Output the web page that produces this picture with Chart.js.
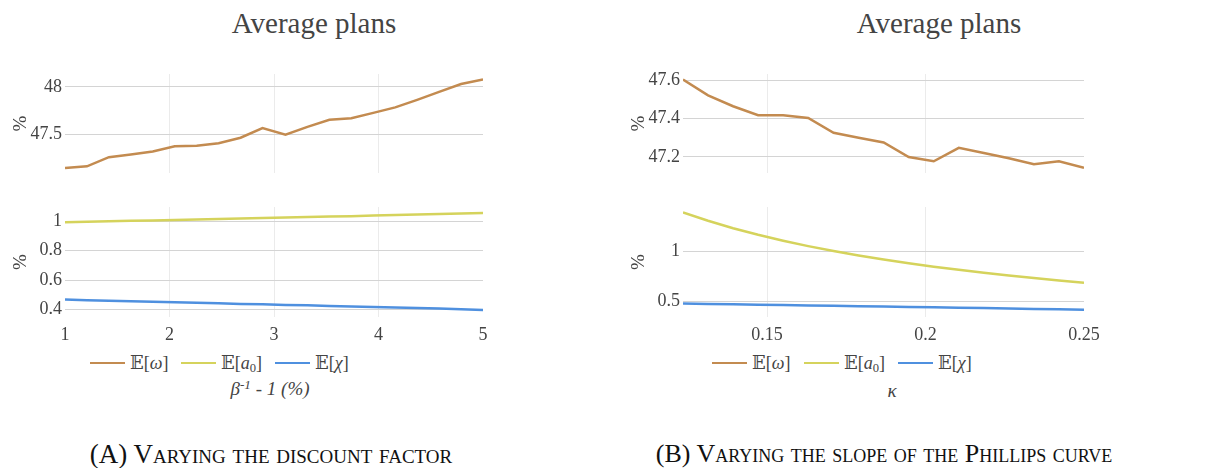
<!DOCTYPE html>
<html>
<head>
<meta charset="utf-8">
<script src="https://cdn.jsdelivr.net/npm/chart.js@4.4.0/dist/chart.umd.min.js"></script>
<style>
  body { margin: 0; width: 1224px; height: 468px; background: #fff; position: relative; overflow: hidden;
         font-family: 'Liberation Serif', 'DejaVu Serif', serif; color: #444; }
  canvas { position: absolute; }
  .txt { position: absolute; white-space: nowrap; line-height: 1; }
  .title { font-size: 29px; width: 300px; text-align: center; top: 9px; }
  .leg { font-size: 18px; top: 354px; }
  .leg span.line { position: absolute; left: -40px; top: 8px; width: 35px; height: 0; border-top: 2.5px solid; }
  .xtitle { font-size: 19px; width: 200px; text-align: center; font-style: italic; }
  .caption { font-size: 26px; color: #111; width: 600px; text-align: center; top: 441px; font-variant: small-caps; }
  sub { font-size: 0.7em; vertical-align: -0.25em; }
  sup { font-size: 0.7em; vertical-align: 0.45em; }
</style>
</head>
<body>
<canvas id="betaTop"></canvas>
<canvas id="betaLow"></canvas>
<canvas id="kappaTop"></canvas>
<canvas id="kappaLow"></canvas>

<div class="txt title" style="left:164px">Average plans</div>
<div class="txt title" style="left:789px">Average plans</div>

<div class="txt leg" style="left:130px"><span class="line" style="border-color:#c38b50"></span>𝔼[<i>ω</i>]</div>
<div class="txt leg" style="left:221px"><span class="line" style="border-color:#d5d35c"></span>𝔼[<i>a</i><sub>0</sub>]</div>
<div class="txt leg" style="left:315px"><span class="line" style="border-color:#4f90df"></span>𝔼[<i>χ</i>]</div>
<div class="txt xtitle" style="left:170px; top:378px">β<sup>-1</sup> - 1 (%)</div>

<div class="txt leg" style="left:752px"><span class="line" style="border-color:#c38b50"></span>𝔼[<i>ω</i>]</div>
<div class="txt leg" style="left:844px"><span class="line" style="border-color:#d5d35c"></span>𝔼[<i>a</i><sub>0</sub>]</div>
<div class="txt leg" style="left:938px"><span class="line" style="border-color:#4f90df"></span>𝔼[<i>χ</i>]</div>
<div class="txt xtitle" style="left:792px; top:381px">κ</div>

<div class="txt caption" style="left:-29px; font-size:27px">(A) Varying the discount factor</div>
<div class="txt caption" style="left:584px">(B) Varying the slope of the Phillips curve</div>

<script>
const serif = "'Liberation Serif', 'DejaVu Serif', serif";
const colOmega = '#c38b50';
const colA0 = '#d5d35c';
const colChi = '#4f90df';

// discount factor sweep
const betaX = [1.00, 1.21, 1.42, 1.63, 1.84, 2.05, 2.26, 2.47, 2.68, 2.89,
               3.11, 3.32, 3.53, 3.74, 3.95, 4.16, 4.37, 4.58, 4.79, 5.00];
const betaOmega = [47.141, 47.160, 47.256, 47.285, 47.317, 47.372, 47.378, 47.404, 47.462, 47.564,
                   47.494, 47.577, 47.651, 47.667, 47.724, 47.782, 47.862, 47.946, 48.029, 48.077];
const betaA0 = [0.993, 0.996, 0.999, 1.002, 1.005, 1.008, 1.011, 1.015, 1.018, 1.021,
                1.024, 1.028, 1.031, 1.034, 1.038, 1.041, 1.045, 1.048, 1.052, 1.056];
const betaChi = [0.468, 0.464, 0.460, 0.457, 0.453, 0.450, 0.446, 0.443, 0.439, 0.436,
                 0.432, 0.429, 0.425, 0.422, 0.418, 0.415, 0.411, 0.407, 0.403, 0.398];
const betaTicks = [1, 2, 3, 4, 5];
const betaTopTicks = [47.5, 48];
const betaLowTicks = [0.4, 0.6, 0.8, 1];

// Phillips curve slope sweep
const kappaX = [0.1235, 0.1314, 0.1393, 0.1472, 0.1551, 0.1630, 0.1710, 0.1789, 0.1868,
                0.1947, 0.2026, 0.2105, 0.2184, 0.2263, 0.2342, 0.2421, 0.2500];
const kappaOmega = [47.603, 47.521, 47.464, 47.417, 47.417, 47.403, 47.326, 47.300, 47.275,
                    47.199, 47.177, 47.247, 47.220, 47.193, 47.162, 47.177, 47.143];
const kappaA0 = [1.389, 1.305, 1.231, 1.165, 1.106, 1.052, 1.003, 0.959, 0.918,
                 0.881, 0.846, 0.815, 0.785, 0.758, 0.732, 0.708, 0.686];
const kappaChi = [0.478, 0.474, 0.470, 0.466, 0.462, 0.458, 0.455, 0.451, 0.447,
                  0.444, 0.440, 0.436, 0.432, 0.428, 0.424, 0.420, 0.415];
const kappaTicks = [0.15, 0.2, 0.25];
const kappaTopTicks = [47.2, 47.4, 47.6];
const kappaLowTicks = [0.5, 1];

Chart.defaults.font.family = serif;
Chart.defaults.color = '#444';

function points(xs, ys) {
    return xs.map((x, i) => ({ x: x, y: ys[i] }));
}

// one subplot; box is the plot area in page pixels
function makePlot(id, box, xs, series, xTicks, yTicks, yRange, showX) {
    const yW = 65, padTop = 14, padRight = 30;
    const xH = showX ? 30 : 4;
    const first = xs[0], last = xs[xs.length - 1];
    const tickFont = { family: serif, size: 18 };
    const canvas = document.getElementById(id);
    canvas.width = box.w + yW + padRight;
    canvas.height = box.h + padTop + xH;
    canvas.style.left = (box.x - yW) + 'px';
    canvas.style.top = (box.y - padTop) + 'px';

    new Chart(canvas, {
        type: 'line',
        data: {
            datasets: series.map(s => ({
                data: points(xs, s.data),
                borderColor: s.color,
                borderWidth: 2.5,
                pointRadius: 0,
                tension: 0
            }))
        },
        options: {
            responsive: false,
            animation: false,
            events: [],
            layout: { padding: { top: padTop, right: padRight, left: 0, bottom: 0 } },
            plugins: { legend: { display: false }, tooltip: { enabled: false } },
            scales: {
                x: {
                    type: 'linear',
                    min: first,
                    max: last,
                    afterBuildTicks: s => { s.ticks = xTicks.map(v => ({ value: v })); },
                    afterFit: s => { s.height = xH; },
                    border: { display: false },
                    grid: {
                        drawTicks: false,
                        color: c => (c.tick && (c.tick.value === first || c.tick.value === last)) ? 'rgba(0,0,0,0)' : '#ebebeb'
                    },
                    ticks: { display: showX, padding: 7, font: tickFont, maxRotation: 0, autoSkip: false, callback: v => v }
                },
                y: {
                    min: yRange[0],
                    max: yRange[1],
                    afterBuildTicks: s => { s.ticks = yTicks.map(v => ({ value: v })); },
                    afterFit: s => { s.width = yW; },
                    border: { display: false },
                    grid: { drawTicks: false, color: '#d4d4d4' },
                    ticks: { padding: 3, font: tickFont, callback: v => v },
                    title: { display: true, text: '%', font: { family: serif, size: 19 }, padding: { top: 10, bottom: 0 } }
                }
            }
        }
    });
}

makePlot('betaTop', { x: 65, y: 74, w: 418, h: 109 }, betaX,
    [{ data: betaOmega, color: colOmega }], betaTicks, betaTopTicks, [47.087, 48.135], false);
makePlot('betaLow', { x: 65, y: 207, w: 418, h: 110 }, betaX,
    [{ data: betaA0, color: colA0 }, { data: betaChi, color: colChi }], betaTicks, betaLowTicks, [0.35, 1.096], true);
makePlot('kappaTop', { x: 683, y: 74, w: 401, h: 109 }, kappaX,
    [{ data: kappaOmega, color: colOmega }], kappaTicks, kappaTopTicks, [47.115, 47.632], false);
makePlot('kappaLow', { x: 683, y: 207, w: 401, h: 110 }, kappaX,
    [{ data: kappaA0, color: colA0 }, { data: kappaChi, color: colChi }], kappaTicks, kappaLowTicks, [0.343, 1.443], true);
</script>
</body>
</html>
